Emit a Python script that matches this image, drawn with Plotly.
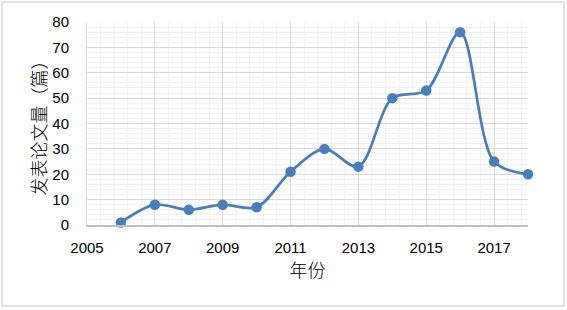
import plotly.graph_objects as go

years = [2006, 2007, 2008, 2009, 2010, 2011, 2012, 2013, 2014, 2015, 2016, 2017, 2018]
papers = [1, 8, 6, 8, 7, 21, 30, 23, 50, 53, 76, 25, 20]
x_title = "年份"
y_title = "发表论文量（篇）"

font_family = "Liberation Sans, Noto Sans CJK SC, sans-serif"
W, H = 567, 310
L, R, T, B = 87, 39, 22, 85
PW, PH = W - L - R, H - T - B

fig = go.Figure()
fig.add_trace(go.Scatter(
    x=years, y=papers, mode="lines+markers",
    line=dict(color="#4a7ebb", width=2.75, shape="spline", smoothing=0.9),
    marker=dict(color="#4a7ebb", size=10.5),
    showlegend=False, cliponaxis=False,
))

fig.update_layout(
    width=W, height=H,
    margin=dict(l=L, r=R, t=T, b=B, autoexpand=False),
    paper_bgcolor="white", plot_bgcolor="white",
    font=dict(family=font_family, size=15, color="#000000"),
    xaxis=dict(
        range=[2005, 2018], tick0=2005, dtick=2, automargin=False,
        showgrid=True, gridcolor="#d9d9d9", gridwidth=1,
        minor=dict(tick0=2005, dtick=0.4, showgrid=True, gridcolor="#f2f2f2", gridwidth=1),
        showline=True, linecolor="#bfbfbf", linewidth=1.5,
        zeroline=False, ticks="", ticklabelstandoff=8,
        title=dict(text=x_title, font=dict(size=18, family="Noto Sans CJK SC", weight=300), standoff=8),
    ),
    yaxis=dict(
        range=[0, 80], tick0=0, dtick=10, automargin=False,
        showgrid=True, gridcolor="#d9d9d9", gridwidth=1,
        minor=dict(tick0=0, dtick=2, showgrid=True, gridcolor="#f2f2f2", gridwidth=1),
        showline=True, linecolor="#d9d9d9", linewidth=1,
        zeroline=False, ticks="", ticklabelstandoff=14,
        title=dict(text=y_title, font=dict(size=18, family="Noto Sans CJK SC", weight=300), standoff=1),
    ),
    shapes=[dict(
        type="rect", xref="paper", yref="paper",
        x0=-(L - 2) / PW, x1=1 + (R - 3) / PW, y0=-(B - 4) / PH, y1=1 + (T - 2) / PH,
        line=dict(color="#d9d9d9", width=1.5), fillcolor="rgba(0,0,0,0)", layer="below",
    )],
)

fig.write_html(
    "out.html",
    config={"displayModeBar": False},
    post_script="document.body.style.margin='0';document.body.style.overflow='hidden';",
)
